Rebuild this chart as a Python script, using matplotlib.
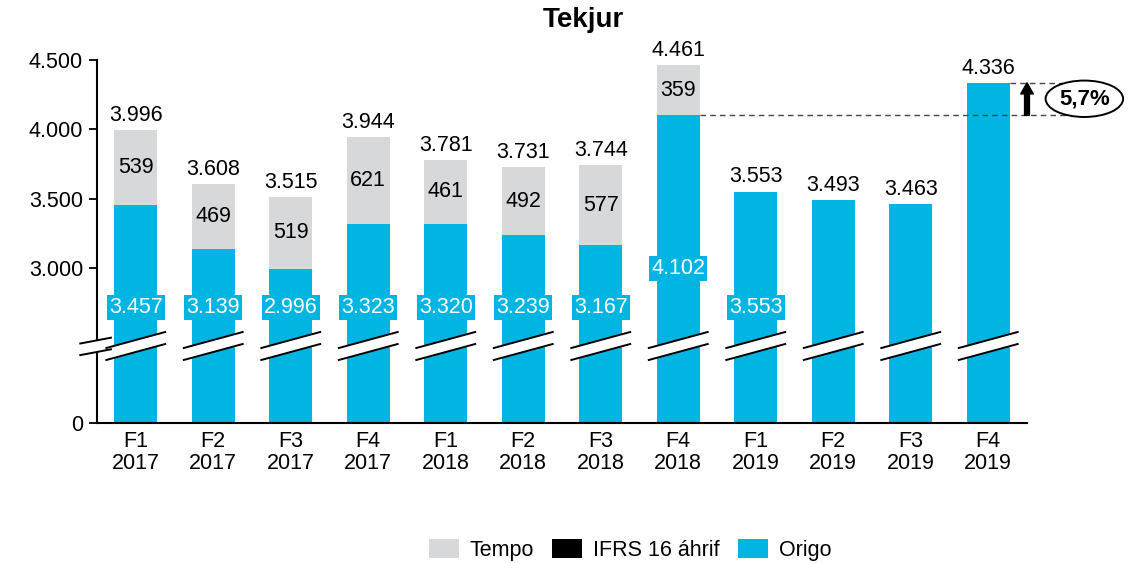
import numpy as np
import matplotlib
matplotlib.use("Agg")
import matplotlib.pyplot as plt
from matplotlib.patches import Polygon, Ellipse, Patch
from matplotlib.transforms import blended_transform_factory

plt.rcParams["font.family"] = ["Liberation Sans", "DejaVu Sans"]

quarters = ["F1\n2017", "F2\n2017", "F3\n2017", "F4\n2017",
            "F1\n2018", "F2\n2018", "F3\n2018", "F4\n2018",
            "F1\n2019", "F2\n2019", "F3\n2019", "F4\n2019"]
origo = np.array([3457, 3139, 2996, 3323, 3320, 3239, 3167, 4102, 3553, 3493, 3463, 4336])
tempo = np.array([539, 469, 519, 621, 461, 492, 577, 359, 0, 0, 0, 0])
ifrs16 = np.zeros(12)
inner_label = [True] * 9 + [False] * 3
growth_text = "5,7%"

BLUE = "#00B5E2"
GRAY = "#D7D8DA"
FS = 15.5

# broken axis: squeeze 0..BREAK into a short stub below the linear part
BREAK = 2448.0
FLOOR = 1888.0


def fwd(v):
    v = np.asarray(v, dtype=float)
    return np.where(v < BREAK, FLOOR + v * (BREAK - FLOOR) / BREAK, v)


def inv(u):
    u = np.asarray(u, dtype=float)
    return np.where(u < BREAK, (u - FLOOR) * BREAK / (BREAK - FLOOR), u)


def fmt(v):
    return f"{int(v):,}".replace(",", ".")


fig = plt.figure(figsize=(11.38, 5.63), dpi=100)
ax = fig.add_axes([97 / 1138, 1 - 423 / 563, 930 / 1138, 363 / 563])
ax.set_yscale("function", functions=(fwd, inv))

x = np.arange(len(quarters))
width = 0.555
ax.bar(x, origo, width, color=BLUE, zorder=2)
ax.bar(x, tempo, width, bottom=origo, color=GRAY, zorder=2)
ax.bar(x, ifrs16, width, bottom=origo + tempo, color="black", zorder=2)

ax.set_xlim(-0.5, len(quarters) - 0.5)
ax.set_ylim(0, 4500)
ax.set_yticks([0, 3000, 3500, 4000, 4500])
ax.set_yticklabels([fmt(t) for t in [0, 3000, 3500, 4000, 4500]])
ax.set_xticks(x)
ax.set_xticklabels(quarters, linespacing=1.02)
ax.tick_params(axis="x", length=0, labelsize=FS, pad=6)
ax.tick_params(axis="y", length=6, width=1.3, labelsize=FS, direction="out", pad=4)
for s in ["top", "right"]:
    ax.spines[s].set_visible(False)
for s in ["left", "bottom"]:
    ax.spines[s].set_linewidth(1.5)

# labels
total = origo + tempo
for i in range(len(x)):
    ax.annotate(fmt(total[i]), (x[i], total[i]), xytext=(0, 3), textcoords="offset points",
                ha="center", va="bottom", fontsize=FS, zorder=5)
    if tempo[i] > 0:
        ax.text(x[i], origo[i] + tempo[i] / 2, fmt(tempo[i]), ha="center", va="center",
                fontsize=FS, zorder=5)
    if inner_label[i]:
        ly = 3000 if origo[i] > 4000 else 2720
        ax.text(x[i], ly, fmt(origo[i]), ha="center", va="center", color="white",
                fontsize=FS, zorder=5,
                bbox=dict(boxstyle="square,pad=0.1", fc=BLUE, ec="none"))

# break marks
tr = blended_transform_factory(ax.transData, ax.transAxes)
lo_l, lo_r, hi_l, hi_r = 0.1736, 0.2176, 0.2066, 0.2507
for xi in x:
    xl, xr = xi - 0.38, xi + 0.38
    ax.add_patch(Polygon([(xl, lo_l), (xr, lo_r), (xr, hi_r), (xl, hi_l)], closed=True,
                         transform=tr, fc="white", ec="none", zorder=6, clip_on=False))
    ax.plot([xl, xr], [lo_l, lo_r], transform=tr, color="black", lw=1.4, zorder=7, clip_on=False)
    ax.plot([xl, xr], [hi_l, hi_r], transform=tr, color="black", lw=1.4, zorder=7, clip_on=False)
ax.add_patch(Polygon([(-0.018, 0.187), (0.015, 0.203), (0.015, 0.235), (-0.018, 0.219)],
                     closed=True, transform=ax.transAxes, fc="white", ec="none",
                     zorder=6, clip_on=False))
ax.plot([-0.018, 0.015], [0.187, 0.203], transform=ax.transAxes, color="black", lw=1.4,
        zorder=7, clip_on=False)
ax.plot([-0.018, 0.015], [0.219, 0.235], transform=ax.transAxes, color="black", lw=1.4,
        zorder=7, clip_on=False)

# growth annotation
last = len(x) - 1
ref = 7
ax.plot([ref + width / 2, last + 1.1], [origo[ref], origo[ref]], ls=(0, (4, 3)),
        color="#444444", lw=1, clip_on=False, zorder=3)
ax.plot([last + width / 2, last + 1.1], [origo[last], origo[last]], ls=(0, (4, 3)),
        color="#444444", lw=1, clip_on=False, zorder=3)
ax.annotate("", xy=(last + 0.5, origo[last]), xytext=(last + 0.5, origo[ref]),
            arrowprops=dict(arrowstyle="simple,head_width=0.9,head_length=0.8,tail_width=0.35",
                            color="black", shrinkA=0, shrinkB=0),
            annotation_clip=False, zorder=8)
ax.add_patch(Ellipse((last + 1.24, 4221), 1.0, 262, fc="white", ec="black", lw=1.4,
                     clip_on=False, zorder=8))
ax.text(last + 1.24, 4221, growth_text, ha="center", va="center", fontsize=16,
        fontweight="bold", zorder=9)

fig.text(583 / 1138, 1 - 20 / 563, "Tekjur", ha="center", va="center", fontsize=20,
         fontweight="bold")

handles = [Patch(fc=GRAY, ec="none", label="Tempo"),
           Patch(fc="black", ec="none", label="IFRS 16 áhrif"),
           Patch(fc=BLUE, ec="none", label="Origo")]
fig.legend(handles=handles, loc="center", bbox_to_anchor=(630 / 1138, 1 - 550 / 563),
           ncol=3, frameon=False, fontsize=FS, handlelength=1.4, handleheight=1.0,
           handletextpad=0.5, columnspacing=0.85)

fig.savefig("out.png", dpi=100)
